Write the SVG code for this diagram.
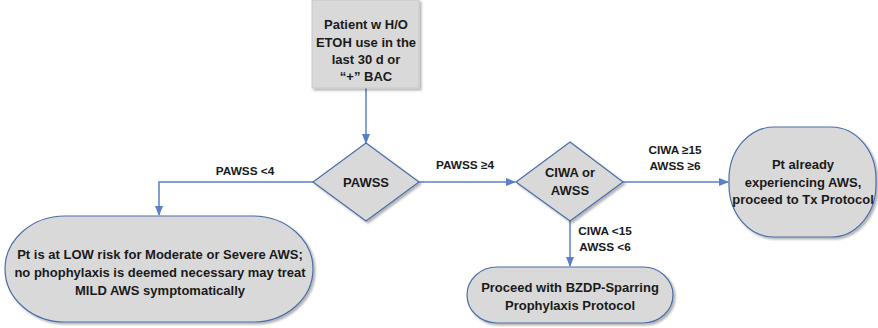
<svg xmlns="http://www.w3.org/2000/svg" width="878" height="328" viewBox="0 0 878 328">
<defs>
<filter id="sh" x="-10%" y="-10%" width="130%" height="130%">
<feDropShadow dx="2" dy="2" stdDeviation="1.2" flood-color="#000" flood-opacity="0.3"/>
</filter>
<marker id="ah" markerWidth="10" markerHeight="8" refX="9" refY="4" orient="auto" markerUnits="userSpaceOnUse">
<path d="M0,0 L10,4 L0,8 Z" fill="#5b7fc6"/>
</marker>
<style>
.n{fill:#d9d9d9;stroke:#4a6ea8;stroke-width:1.2;filter:url(#sh)}
.b{fill:#d9d9d9;stroke:#c8c8c8;stroke-width:1;filter:url(#sh)}
.c{fill:none;stroke:#5b7fc6;stroke-width:1.5;marker-end:url(#ah)}
text{font-family:"Liberation Sans",Arial,sans-serif;font-weight:bold;fill:#1a1a1a;text-anchor:middle}
.t{font-size:13px}
.l{font-size:11.8px}
</style>
</defs>
<g id="connectors">
<path class="c" d="M366,88 V143"/>
<path class="c" d="M313,182 H159 V215"/>
<path class="c" d="M419,182 H515"/>
<path class="c" d="M570,221 V266"/>
<path class="c" d="M623,182 H728"/>
<text class="l" x="245" y="175">PAWSS &lt;4</text>
<text class="l" x="465" y="169">PAWSS ≥4</text>
<text class="l" x="605" y="235">CIWA &lt;15</text>
<text class="l" x="605" y="251">AWSS &lt;6</text>
<text class="l" x="675" y="154">CIWA ≥15</text>
<text class="l" x="675" y="170">AWSS ≥6</text>
</g>
<g id="start">
<rect class="b" x="312" y="0" width="107" height="88"/>
<text class="t" x="366" y="29">Patient w H/O</text>
<text class="t" x="366" y="47">ETOH use in the</text>
<text class="t" x="366" y="64">last 30 d or</text>
<text class="t" x="366" y="81">“+” BAC</text>
</g>
<g id="pawss">
<path class="n" d="M366,143 L419,182 L366,221 L313,182 Z"/>
<text class="t" x="366" y="187">PAWSS</text>
</g>
<g id="ciwa">
<path class="n" d="M570,142 L623,182 L570,221 L516,182 Z"/>
<text class="t" x="570" y="177">CIWA or</text>
<text class="t" x="570" y="195">AWSS</text>
</g>
<g id="low">
<rect class="n" x="5" y="216" width="308" height="106" rx="60" ry="53"/>
<text class="t" x="160" y="259">Pt is at LOW risk for Moderate or Severe AWS;</text>
<text class="t" x="160" y="277">no phophylaxis is deemed necessary may treat</text>
<text class="t" x="160" y="295">MILD AWS symptomatically</text>
</g>
<g id="tx">
<rect class="n" x="729" y="127" width="147" height="110" rx="45" ry="52"/>
<text class="t" x="803" y="169">Pt already</text>
<text class="t" x="803" y="187">experiencing AWS,</text>
<text class="t" x="803" y="204">proceed to Tx Protocol</text>
</g>
<g id="bzdp">
<rect class="n" x="467" y="267" width="206" height="56" rx="30" ry="28"/>
<text class="t" x="570" y="292">Proceed with BZDP-Sparring</text>
<text class="t" x="570" y="310">Prophylaxis Protocol</text>
</g>
</svg>
